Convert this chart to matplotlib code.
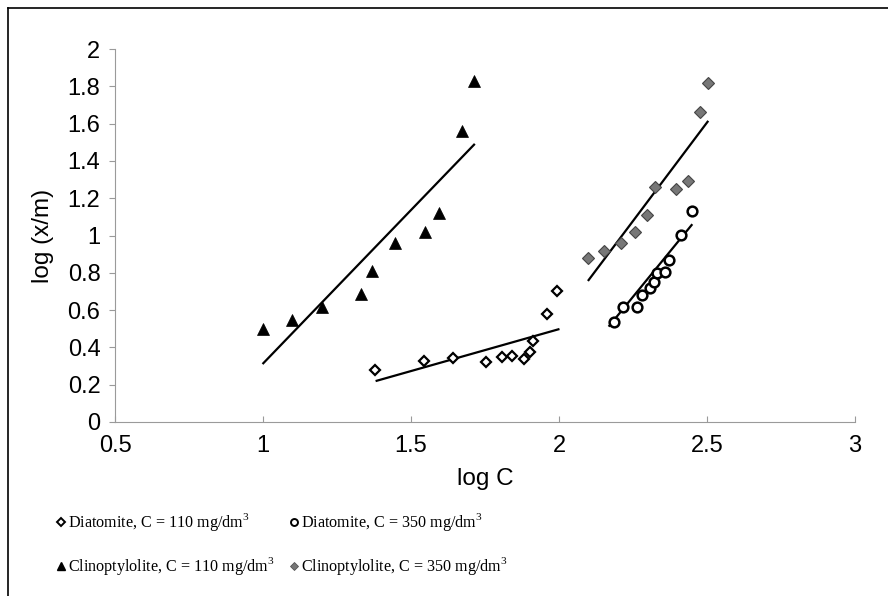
import matplotlib
matplotlib.use("Agg")
import matplotlib.pyplot as plt
from matplotlib.lines import Line2D

plt.rcParams['font.family'] = ['Liberation Sans', 'DejaVu Sans']
plt.rcParams['mathtext.fontset'] = 'custom'
plt.rcParams['mathtext.rm'] = 'Liberation Serif'

# Data
dia110_x = [1.378, 1.544, 1.642, 1.752, 1.808, 1.842, 1.883, 1.902, 1.913, 1.958, 1.993]
dia110_y = [0.279, 0.329, 0.341, 0.323, 0.350, 0.354, 0.336, 0.377, 0.436, 0.577, 0.702]
dia350_x = [2.187, 2.217, 2.265, 2.279, 2.307, 2.322, 2.332, 2.359, 2.370, 2.411, 2.449]
dia350_y = [0.535, 0.615, 0.618, 0.681, 0.720, 0.752, 0.797, 0.806, 0.869, 1.003, 1.131]
cli110_x = [1.000, 1.098, 1.198, 1.330, 1.368, 1.447, 1.547, 1.595, 1.673, 1.713]
cli110_y = [0.497, 0.547, 0.615, 0.685, 0.808, 0.960, 1.017, 1.119, 1.562, 1.830]
cli350_x = [2.097, 2.153, 2.209, 2.257, 2.296, 2.326, 2.395, 2.436, 2.476, 2.504]
cli350_y = [0.878, 0.918, 0.958, 1.019, 1.112, 1.258, 1.248, 1.290, 1.661, 1.819]

# Trend lines (endpoints)
fit_dia110_x = [1.384, 1.998]
fit_dia110_y = [0.221, 0.497]
fit_dia350_x = [2.170, 2.448]
fit_dia350_y = [0.516, 1.056]
fit_cli110_x = [1.001, 1.713]
fit_cli110_y = [0.315, 1.487]
fit_cli350_x = [2.100, 2.502]
fit_cli350_y = [0.761, 1.610]

xticks = [0.5, 1, 1.5, 2, 2.5, 3]
xticklabels = ['0.5', '1', '1.5', '2', '2.5', '3']
yticks = [0, 0.2, 0.4, 0.6, 0.8, 1, 1.2, 1.4, 1.6, 1.8, 2]
yticklabels = ['0', '0.2', '0.4', '0.6', '0.8', '1', '1.2', '1.4', '1.6', '1.8', '2']

labels = ['Diatomite, C = 110 mg/dm$^{3}$', 'Clinoptylolite, C = 110 mg/dm$^{3}$',
          'Diatomite, C = 350 mg/dm$^{3}$', 'Clinoptylolite, C = 350 mg/dm$^{3}$']

W, H = 888, 596
fig = plt.figure(figsize=(W/100, H/100), dpi=100)
ax = fig.add_axes([115/W, 1-422/H, (855-115)/W, (422-49)/H])

lw = 1.6
for fx, fy in [(fit_dia110_x, fit_dia110_y), (fit_dia350_x, fit_dia350_y),
               (fit_cli110_x, fit_cli110_y), (fit_cli350_x, fit_cli350_y)]:
    ax.plot(fx, fy, color='black', lw=lw, zorder=2)

ax.plot(dia110_x, dia110_y, ls='none', marker='D', ms=5.2, mfc='white', mec='black', mew=1.6, zorder=3)
ax.plot(dia350_x, dia350_y, ls='none', marker='o', ms=7, mfc='white', mec='black', mew=1.8, zorder=3)
ax.plot(cli110_x, cli110_y, ls='none', marker='^', ms=8.5, mfc='black', mec='black', mew=0.5, zorder=3)
ax.plot(cli350_x, cli350_y, ls='none', marker='D', ms=6, mfc='#777777', mec='#444444', mew=0.8, zorder=3)

ax.set_xlim(0.5, 3)
ax.set_ylim(0, 2)
ax.set_xticks(xticks)
ax.set_xticklabels(xticklabels)
ax.set_yticks(yticks)
ax.set_yticklabels(yticklabels)
for s in ['top', 'right']:
    ax.spines[s].set_visible(False)
for s in ['left', 'bottom']:
    ax.spines[s].set_color('#9a9a9a')
    ax.spines[s].set_linewidth(0.8)
ax.tick_params(axis='y', direction='out', length=4, color='#9a9a9a', labelsize=17, pad=6.5)
ax.tick_params(axis='x', direction='in', length=4, color='#9a9a9a', labelsize=17, pad=9)
ax.set_xlabel('log C', fontsize=17.5, labelpad=8)
ax.set_ylabel('log (x/m)', fontsize=17.5, labelpad=10)

# Legend drawn entry by entry (2 columns x 2 rows)
legend_markers = [
    dict(marker='D', ms=4, mfc='white', mec='black', mew=1.4),
    dict(marker='^', ms=6, mfc='black', mec='black'),
    dict(marker='o', ms=5, mfc='white', mec='black', mew=1.4),
    dict(marker='D', ms=4, mfc='#777777', mec='#555555', mew=0.6),
]
col_x = [61, 294]
row_y = [522, 566]
for i, (lab, mk) in enumerate(zip(labels, legend_markers)):
    c, r = divmod(i, 2)
    xm = col_x[c] / W
    yc = 1 - row_y[r] / H
    fig.add_artist(Line2D([xm], [yc], ls='none', transform=fig.transFigure, **mk))
    fig.text(xm + 7/W, yc, lab, ha='left', va='center', family='Liberation Serif', fontsize=11.6)

# outer frame (left and top edges visible)
x0 = 8/W
y0 = 1-8/H
fig.add_artist(Line2D([x0, x0], [0, y0], color='black', lw=1.2, transform=fig.transFigure))
fig.add_artist(Line2D([x0, 1], [y0, y0], color='black', lw=1.2, transform=fig.transFigure))

fig.savefig('out.png', dpi=100, facecolor='white')
